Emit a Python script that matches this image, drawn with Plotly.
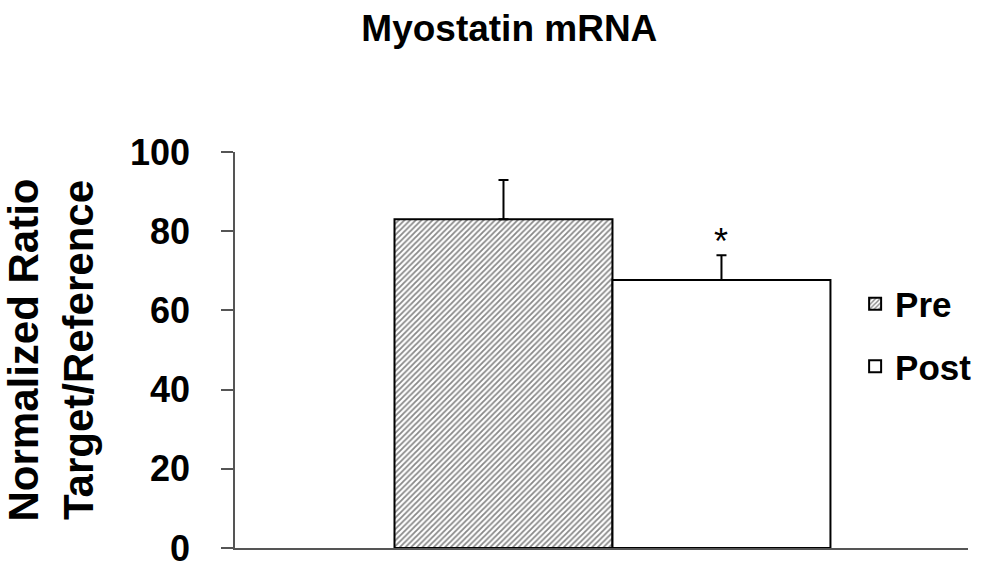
import plotly.graph_objects as go

# ---- data ----
groups = ["Pre", "Post"]
means = [83.0, 67.7]
sem_up = [9.9, 6.2]
sig_marks = ["", "*"]
y_ticks = [0, 20, 40, 60, 80, 100]
title_text = "Myostatin mRNA"
y_title = "Normalized Ratio<br>Target/Reference"

FONT = "Arial, 'Liberation Sans', Helvetica, sans-serif"
positions = list(range(len(groups)))

fig = go.Figure()
styles = [
    dict(fillmode="overlay", shape="/", size=4, solidity=0.45, fgcolor="#111111", bgcolor="#ffffff"),
    dict(shape=""),
]
for i, g in enumerate(groups):
    fig.add_trace(go.Bar(
        x=[positions[i]], y=[means[i]], name=g, width=1,
        marker=dict(color="#ffffff", line=dict(color="#000000", width=2), pattern=styles[i]),
        error_y=dict(type="data", symmetric=False, array=[sem_up[i]], arrayminus=[0],
                     color="#000000", thickness=2, width=5),
        legendgroup=g,
    ))

for i, m in enumerate(sig_marks):
    if m:
        fig.add_annotation(x=positions[i], y=means[i] + sem_up[i], yshift=14, text=m,
                           showarrow=False, font=dict(family=FONT, size=36, color="#000"),
                           xref="x", yref="y")

fig.update_layout(
    width=989, height=568,
    margin=dict(l=235, r=21, t=152, b=20),
    paper_bgcolor="#ffffff", plot_bgcolor="#ffffff",
    barmode="overlay",
    title=dict(text=title_text, x=0.515, xref="container", xanchor="center",
               y=1 - 28 / 568, yref="container", yanchor="middle",
               font=dict(family=FONT, size=37, color="#000", weight="bold")),
    showlegend=True,
    legend=dict(x=0.846, xanchor="left", y=0.538, yanchor="middle",
                font=dict(family=FONT, size=35, color="#000", weight="bold"),
                traceorder="grouped", tracegroupgap=14, bgcolor="rgba(0,0,0,0)"),
    xaxis=dict(range=[-1.2317, 2.131], showticklabels=False, ticks="", showgrid=False,
               zeroline=False, showline=True, linecolor="#555555", linewidth=2, fixedrange=True),
    yaxis=dict(range=[0, 100], tickvals=y_ticks, showgrid=False, zeroline=False,
               showline=True, linecolor="#555555", linewidth=1.5,
               ticks="outside", ticklen=12, tickwidth=1.5, tickcolor="#555555",
               ticklabelstandoff=24, ticklabeloverflow="allow",
               tickfont=dict(family=FONT, size=36, color="#000", weight="bold"),
               title=dict(text=y_title, standoff=32,
                          font=dict(family=FONT, size=42, color="#000", weight="bold")),
               automargin=False),
)

fig.write_html("out.html")
